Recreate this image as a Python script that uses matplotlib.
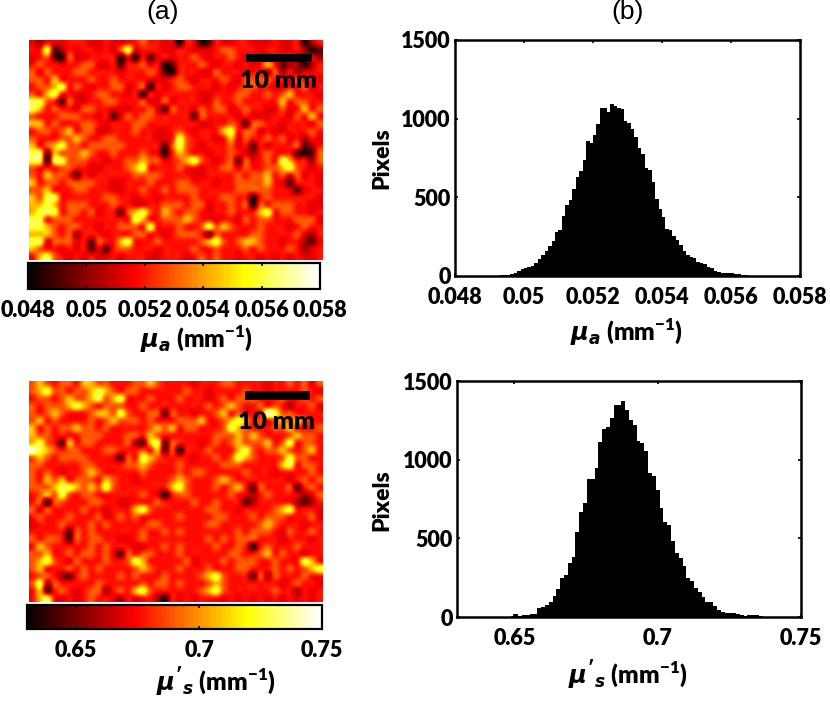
import numpy as np
import matplotlib
matplotlib.use('Agg')
import matplotlib.pyplot as plt
from matplotlib.patches import Rectangle

plt.rcParams['font.family'] = ['Lato', 'DejaVu Sans']
plt.rcParams['font.weight'] = 'heavy'
plt.rcParams['mathtext.fontset'] = 'custom'
plt.rcParams['mathtext.rm'] = 'Lato:heavy'
plt.rcParams['mathtext.bf'] = 'Lato:heavy'
plt.rcParams['mathtext.it'] = 'DejaVu Sans:italic:bold'

W = 830
H = 707

# colour level of each map cell (0 = black ... 9 = pale yellow)
level_fractions = [0.0, 0.05, 0.13, 0.24, 0.33, 0.39, 0.49, 0.64, 0.80, 0.97]

mua_rows = [
    "4354455544 5445565544 1541254455 4445445135",
    "5582354554 5468455544 5544456655 5455445312",
    "4562164455 5514152454 5565455654 4445453243",
    "5655455664 4525564512 5556545545 4575233135",
    "6465556655 5545556521 5554465554 5536353445",
    "6657555565 5655554445 6545556546 6665546554",
    "5667856545 5664561545 6655545456 6554455645",
    "6578554456 6554515455 5554455566 5565675554",
    "8865264455 6655564464 5554465565 5555756655",
    "8756554665 5444556426 5546566456 5544645756",
    "6555666554 5246566555 5526555545 4445546575",
    "7756555665 4555665555 5554455652 6655455546",
    "5665675664 4555655445 6545557856 6454455565",
    "6555667655 6655555445 8655545746 5565645354",
    "7567866566 6665555526 8654555645 2545556235",
    "8827666765 5655565415 7655455654 3565552126",
    "8818866655 4556676645 6786545626 4565875536",
    "6555665544 5556785555 6554556646 5566786545",
    "6576652545 5555666655 5544555565 6675646454",
    "7566566665 5445556555 6655545566 6675425554",
    "6675556655 5445565565 6665555566 6665542455",
    "7688555555 6655455455 5565556655 1565555554",
    "7787566655 5655445566 6566455656 1656665544",
    "7888566564 5526786576 5665455655 5785665545",
    "8856665555 5555875566 6765545546 5665556664",
    "8876566554 5566658555 6556867655 5655545655",
    "7776563555 4555665545 6665265555 6655556435",
    "8846664526 5578555655 5556786567 7655455324",
    "7655454524 2566555455 5565565556 5655565345",
    "5786545454 4545554455 5456565545 5454545445",
]

mus_rows = [
    "6765665776 6555667655 5545556655 5545565646",
    "6786656678 7656655555 5655455556 5545555654",
    "5665676678 6785556555 6555456566 6555655656",
    "6566678765 6665565555 5555656765 5656535564",
    "6567655567 7686556626 5545567565 5598665555",
    "6756555565 6766656555 6667556787 5656767655",
    "7565667665 6555556767 5665556876 5556675556",
    "7665555666 5556657655 5555566676 7655567665",
    "7865275665 5556327826 5554565676 6675685665",
    "9876566555 6655565726 1555655578 6566765675",
    "6765666655 5426587655 5545565687 6555686655",
    "6655555665 5556676555 6555556665 5555785665",
    "6565455676 5555565555 6566555556 5554555565",
    "6576756665 7655455556 7655567655 5555545656",
    "6667887676 8655555557 8655565675 2655562565",
    "5676865665 5555565415 6655555654 3565554346",
    "5616655566 5544555655 5565565552 3555553235",
    "6465555655 4555786555 5555665545 5556785554",
    "5655565556 4565655555 6555566555 6566655564",
    "4555655565 6555556655 5555665555 5676555455",
    "5555526565 5555565565 6555555565 6665465565",
    "6566526566 5544565555 5555656566 6555455545",
    "5765555565 6555445565 6555565565 1565556555",
    "6675565665 6426566555 6555555665 5675655455",
    "6786546555 6556875555 5645556566 6556555875",
    "6755565656 5555676555 6555655566 5556565678",
    "5665325655 5565655565 5556786555 2636555655",
    "6836555556 5555565665 6555676555 5555456554",
    "5725654566 3565786555 5556786555 5556553545",
    "5785454565 5435455315 4545554545 4545454545",
]

# histogram of mua, 0.0001 wide bins starting at mua_first
mua_first = 0.0490
mua_counts = [1, 2, 3, 4, 5, 8, 12, 18, 30, 42,
              50, 55, 63, 80, 110, 133, 160, 190, 225, 282,
              290, 380, 450, 480, 550, 630, 665, 737, 855, 845,
              897, 965, 1066, 1066, 1045, 1092, 1081, 1070, 1060, 985,
              975, 933, 884, 816, 774, 685, 676, 600, 490, 424,
              375, 300, 295, 254, 229, 197, 159, 131, 123, 112,
              91, 85, 75, 57, 49, 32, 25, 22, 20, 18,
              16, 14, 15, 8, 5, 2]

# histogram of mus, 90 bins over the axis, first 14 are empty
mus_bins = 90
mus_first_bin = 14
mus_counts = [6, 19, 8, 13, 13, 17, 19, 55, 63, 78,
              93, 131, 180, 251, 264, 342, 382, 543, 670, 723,
              877, 877, 949, 1113, 1194, 1207, 1266, 1350, 1350, 1371,
              1314, 1251, 1223, 1118, 1105, 1054, 913, 898, 807, 691,
              606, 585, 480, 406, 378, 321, 247, 230, 184, 158,
              127, 95, 95, 68, 42, 32, 23, 23, 25, 19,
              13, 8, 11, 11, 11, 4]

mua_range = (0.048, 0.058)
mus_range = (0.63, 0.75)
mua_ticks = [0.048, 0.05, 0.052, 0.054, 0.056, 0.058]
mua_labels = ['0.048', '0.05', '0.052', '0.054', '0.056', '0.058']
mus_ticks = [0.65, 0.7, 0.75]
mus_labels = ['0.65', '0.7', '0.75']
count_ticks = [0, 500, 1000, 1500]

# image size in mm, 10 mm = about 65 px
map_size = (45, 34)


def px_axes(fig, left, top, right, bottom):
    return fig.add_axes([left / W, 1 - bottom / H, (right - left) / W, (bottom - top) / H])


def decode(rows, value_range):
    levels = np.array([[int(c) for c in row.replace(' ', '')] for row in rows])
    fracs = np.array(level_fractions)[levels]
    return value_range[0] + fracs * (value_range[1] - value_range[0])


def draw_map(fig, rows, value_range, box, cbox, ticks, labels, bar, text_y):
    ax = px_axes(fig, *box)
    im = ax.imshow(decode(rows, value_range), cmap=plt.get_cmap('hot', 64),
                   vmin=value_range[0], vmax=value_range[1], aspect='auto',
                   interpolation='catrom', extent=(0, map_size[0], map_size[1], 0))
    ax.axis('off')
    ax.add_patch(Rectangle((bar[0], bar[1]), 10, 1.25, color='k', lw=0))
    ax.text(bar[0] + 4.9, text_y, '10 mm', ha='center', va='center', fontsize=18, color='k')

    cax = px_axes(fig, *cbox)
    cb = fig.colorbar(im, cax=cax, orientation='horizontal')
    cb.set_ticks(ticks)
    cb.set_ticklabels(labels)
    cax.tick_params(axis='x', which='both', direction='in', top=True, bottom=True,
                    length=2.5, width=1.2, color='k', labelsize=15.5, pad=8)
    cb.outline.set_linewidth(1.6)


def draw_hist(ax, edges, counts, value_range, ticks, labels):
    ax.stairs(counts, edges, fill=True, color='k', lw=0)
    ax.set_xlim(value_range)
    ax.set_ylim(0, 1500)
    ax.set_xticks(ticks)
    ax.set_xticklabels(labels)
    ax.set_yticks(count_ticks)
    ax.tick_params(direction='in', top=True, right=True, length=2.5, width=1.2, labelsize=15.5)
    ax.tick_params(axis='x', pad=8)
    ax.tick_params(axis='y', pad=3)
    for s in ax.spines.values():
        s.set_linewidth(1.8)


fig = plt.figure(figsize=(W / 100, H / 100), dpi=100)

# left column
draw_map(fig, mua_rows, mua_range, (29, 40, 322, 260), (28, 263, 320, 289),
         mua_ticks, mua_labels, (33.4, 2.2), 6.3)
draw_map(fig, mus_rows, mus_range, (29, 381, 322, 602), (27, 605, 322, 629),
         mus_ticks, mus_labels, (33.1, 1.6), 6.3)

# right column
ax1 = px_axes(fig, 455, 40, 800, 276)
edges1 = mua_first + np.arange(len(mua_counts) + 1) * 0.0001
draw_hist(ax1, edges1, mua_counts, mua_range, mua_ticks, mua_labels)

ax2 = px_axes(fig, 457, 381, 801, 617)
width2 = (mus_range[1] - mus_range[0]) / mus_bins
edges2 = mus_range[0] + (mus_first_bin + np.arange(len(mus_counts) + 1)) * width2
draw_hist(ax2, edges2, mus_counts, mus_range, mus_ticks, mus_labels)


def fig_text(x, y, s, **kw):
    fig.text(x / W, 1 - y / H, s, ha='center', va='center', **kw)


fig_text(163, 12, '(a)', fontsize=19, family='Liberation Sans', weight='normal')
fig_text(628, 12, '(b)', fontsize=19, family='Liberation Sans', weight='normal')

mua_label = r'$\mu_a$ (mm$^{-1}$)'
mus_label = r"$\mu'_s$ (mm$^{-1}$)"
fig_text(197, 339, mua_label, fontsize=17.5)
fig_text(216, 682, mus_label, fontsize=17.5)
fig_text(627, 332, mua_label, fontsize=17.5)
fig_text(628, 675, mus_label, fontsize=17.5)

fig_text(382, 158, 'Pixels', fontsize=16.5, rotation=90)
fig_text(382, 500, 'Pixels', fontsize=16.5, rotation=90)

fig.savefig('out.png', dpi=100)
